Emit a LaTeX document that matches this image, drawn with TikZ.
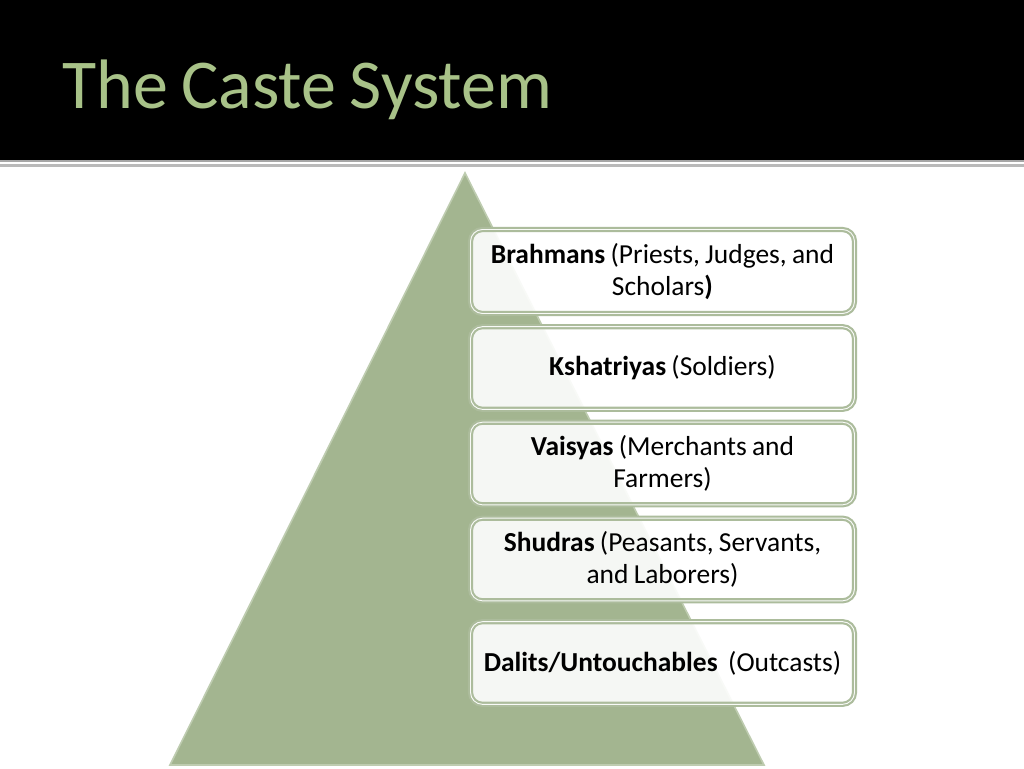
\documentclass[tikz,border=0pt]{standalone}
\usepackage{fontspec}
\setmainfont{Carlito}[WordSpace=0.85]
\begin{document}
\begin{tikzpicture}[x=0.75pt,y=-0.75pt,
  tri/.style={fill=trigreen,draw=triedge,line width=1.2pt},
  caste/.style={rounded corners=9pt,fill=white,fill opacity=0.9,text opacity=1,
    draw=boxedge,line width=1.6pt,double=white!92!boxedge,double distance=0.7pt,
    minimum width=288pt,align=center,
    font=\fontsize{20.6}{24.5}\selectfont,inner sep=0pt}]
\definecolor{trigreen}{RGB}{163,181,144}
\definecolor{triedge}{RGB}{190,204,176}
\definecolor{boxedge}{RGB}{172,188,156}
\definecolor{titlegreen}{RGB}{168,194,136}
\useasboundingbox (0,0) rectangle (1024,768);
\fill[white] (0,0) rectangle (1024,768);
\fill[black] (0,0) rectangle (1024,160);
\draw[gray!70,line width=1.2pt] (0,161) -- (1024,161);
\draw[gray!55,line width=2pt] (0,165.5) -- (1024,165.5);
\node[anchor=base west,inner sep=0pt,text=titlegreen,font=\fontsize{52.5}{60}\selectfont] (title) at (62,108) {The Caste System};
\path[tri] (465,173) -- (764,765) -- (170,765) -- cycle;
\node[caste,minimum height=63pt] (b1) at (662.5,271.5) {\textbf{Brahmans} (Priests, Judges, and\\ Scholars\textbf{)}};
\node[caste,minimum height=62pt] (b2) at (662.5,368) {\textbf{Kshatriyas} (Soldiers)};
\node[caste,minimum height=62pt] (b3) at (662.5,463.5) {\textbf{Vaisyas} (Merchants and\\ Farmers)};
\node[caste,minimum height=62pt] (b4) at (662.5,559.5) {\textbf{Shudras} (Peasants, Servants,\\ and Laborers)};
\node[caste,minimum height=62pt] (b5) at (662.5,663) {\textbf{Dalits/Untouchables}\ \ (Outcasts)};
\end{tikzpicture}
\end{document}
